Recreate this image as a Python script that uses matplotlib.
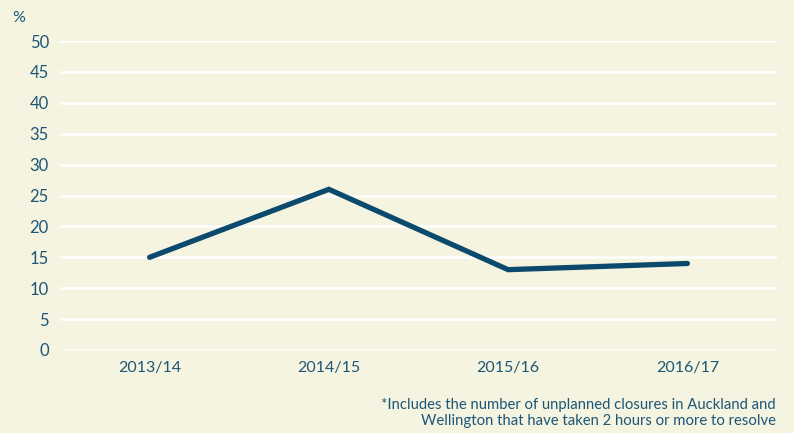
import matplotlib
matplotlib.use("Agg")
import matplotlib.pyplot as plt

plt.rcParams["font.family"] = ["Lato", "DejaVu Sans"]

years = ["2013/14", "2014/15", "2015/16", "2016/17"]
pct = [15, 26, 13, 14]
y_ticks = [0, 5, 10, 15, 20, 25, 30, 35, 40, 45, 50]
note = ("*Includes the number of unplanned closures in Auckland and\n"
        "Wellington that have taken 2 hours or more to resolve")

bg = "#f5f4e0"
text_col = "#1d5677"
line_col = "#0b4a6c"

fig = plt.figure(figsize=(7.94, 4.33), dpi=100, facecolor=bg)
ax = fig.add_axes([60 / 794, 1 - 350 / 433, 717 / 794, 309 / 433], facecolor=bg)

x = list(range(len(years)))
ax.plot(x, pct, color=line_col, lw=3.8, solid_capstyle="round", solid_joinstyle="miter", zorder=3)

ax.set_xlim(-0.5, len(years) - 0.5)
ax.set_ylim(0, 50)
ax.set_yticks(y_ticks)
ax.set_xticks(x)
ax.set_xticklabels(years)
ax.grid(axis="y", color="white", lw=1.8)
ax.set_axisbelow(True)
for s in ax.spines.values():
    s.set_visible(False)
ax.tick_params(length=0, colors=text_col, labelsize=12)
ax.tick_params(axis="x", pad=8, labelsize=11.5)
ax.tick_params(axis="y", pad=8)

fig.text(12 / 794, 1 - 18 / 433, "%", color=text_col, fontsize=11.5, va="center", ha="left")
fig.text(776 / 794, 1 - 413 / 433, note, color=text_col, fontsize=10.7, ha="right", va="center",
         multialignment="right", linespacing=1.1)

fig.savefig("out.png", dpi=100, facecolor=bg)
